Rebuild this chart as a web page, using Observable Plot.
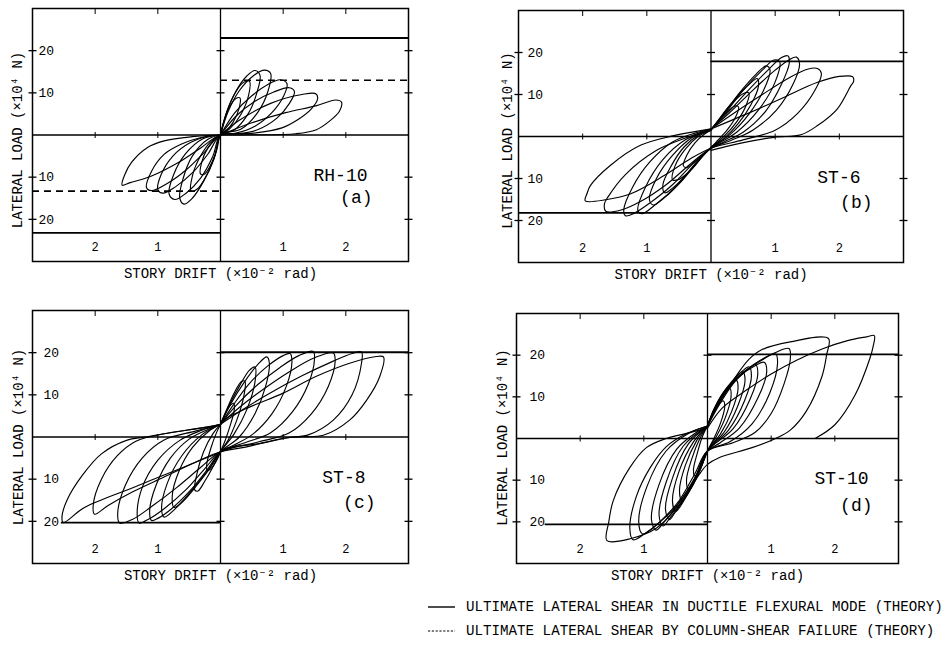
<!DOCTYPE html>
<html><head><meta charset="utf-8">
<script src="https://cdn.jsdelivr.net/npm/d3@7"></script>
<script src="https://cdn.jsdelivr.net/npm/@observablehq/plot@0.6"></script>
<style>
html,body{margin:0;padding:0;background:#fff;}
#root{position:relative;width:945px;height:648px;overflow:hidden;background:#fff;font-family:"Liberation Mono",monospace;}
.panel{position:absolute;}
#legend{position:absolute;left:425px;top:594px;}
</style></head><body><div id="root"></div>
<script>
// ---- tick values and labels ----
const xTicks = [-2, -1, 1, 2];
const yTicks = [-20, -10, 10, 20];
const xTitle = "STORY DRIFT (×10⁻² rad)";
const yTitle = "LATERAL LOAD (×10⁴ N)";
const specimenNames = ["RH-10", "ST-6", "ST-8", "ST-10"];
const panelTags = ["(a)", "(b)", "(c)", "(d)"];
const legendLabels = [
  "ULTIMATE LATERAL SHEAR IN DUCTILE FLEXURAL MODE (THEORY)",
  "ULTIMATE LATERAL SHEAR BY COLUMN-SHEAR FAILURE (THEORY)"
];

// ---- theory lines: [x1, x2, y] ----
const solidRH10 = [[0, 3, 23], [-3, 0, -23.2]];
const dashedRH10 = [[0, 3, 13], [-3, 0, -13.3]];
const solidST6 = [[0, 3, 17.9], [-3, 0, -18.2]];
const solidST8 = [[0, 3, 20.1], [-2.54, 0, -20.3]];
const solidST10 = [[0, 3, 20.2], [-2.55, 0, -20.6]];

// ---- hysteresis loops (drift ×10^-2 rad, load ×10^4 N), one list per cycle ----
const loopsRH10 = [
  [[0,0],[0.06,3.5],[0.15,6.8],[0.25,8.7],[0.31,8.8],[0.3,6.5],[0.2,3],[0.08,0.8],[0,0],[-0.06,-3.5],[-0.16,-7.2],[-0.26,-9.3],[-0.32,-9.2],[-0.3,-6.5],[-0.2,-3],[-0.08,-0.8],[0,0]],
  [[0,0],[0.08,4.5],[0.2,9],[0.35,12.3],[0.46,12.8],[0.45,9.5],[0.33,5],[0.15,1.5],[0,0],[-0.08,-4.5],[-0.22,-9.5],[-0.37,-12.8],[-0.47,-13.3],[-0.45,-9.8],[-0.32,-5],[-0.15,-1.5],[0,0]],
  [[0,0],[0.1,5.5],[0.25,10.5],[0.42,14],[0.55,15.3],[0.63,14.2],[0.58,10],[0.44,5],[0.22,1.2],[0,0],[-0.1,-5.5],[-0.27,-11],[-0.45,-15],[-0.58,-16.4],[-0.65,-15],[-0.6,-10.5],[-0.45,-5],[-0.2,-1],[0,0]],
  [[0,0],[0.12,5.5],[0.3,10.5],[0.52,14],[0.7,15.4],[0.8,14.6],[0.76,10.5],[0.6,5.5],[0.33,1.4],[0,0],[-0.12,-5],[-0.32,-10.3],[-0.55,-13.8],[-0.73,-15.3],[-0.82,-14],[-0.75,-9.5],[-0.56,-4.5],[-0.28,-0.9],[0,0]],
  [[0,0],[0.23,5.3],[0.5,9.3],[0.77,12.1],[0.95,13.1],[1.06,12.2],[1.01,9.3],[0.82,5.3],[0.55,2.1],[0.23,0.4],[0,0],[-0.2,-4.5],[-0.45,-9],[-0.72,-12.3],[-0.92,-13.8],[-1.0,-13],[-0.95,-9.5],[-0.76,-5],[-0.48,-1.8],[-0.2,-0.3],[0,0]],
  [[0,0],[0.25,4.5],[0.55,8],[0.85,10.2],[1.1,11.2],[1.18,10.3],[1.1,7.5],[0.9,4],[0.6,1.3],[0.3,0.3],[0,0],[-0.25,-4],[-0.55,-8.3],[-0.85,-11.5],[-1.1,-13.2],[-1.18,-12.5],[-1.1,-8.6],[-0.9,-4.6],[-0.63,-2.2],[-0.31,-0.6],[0,0]],
  [[0,0],[0.3,3.5],[0.8,7.5],[1.3,9.6],[1.52,9.8],[1.55,8.6],[1.45,6.2],[1.25,3.8],[0.98,1.7],[0.5,0.4],[0,0],[-0.31,-3],[-0.68,-6.6],[-1.11,-9.8],[-1.44,-11.3],[-1.57,-11.9],[-1.53,-9.5],[-1.42,-6.5],[-1.17,-3],[-0.9,-1.4],[-0.45,-0.4],[0,0]],
  [[0,0],[0.5,2.9],[1.04,5.3],[1.52,6.9],[1.84,8.3],[1.93,7.8],[1.9,5.7],[1.74,3.3],[1.52,1.2],[1.2,0.3],[0.5,0.05],[0,0]]
];
const loopsST6 = [
  [[0,1.5],[0.1,3.5],[0.25,5.8],[0.38,7.3],[0.43,7],[0.38,4.5],[0.25,1.5],[0.1,-1],[0,-2.6],[-0.1,-4],[-0.25,-6],[-0.38,-7.4],[-0.43,-7],[-0.38,-4.5],[-0.25,-1.5],[-0.1,0.6],[0,1.5]],
  [[0,1.5],[0.12,4],[0.3,7.5],[0.5,10.2],[0.59,10.4],[0.55,7.5],[0.4,3.5],[0.2,0],[0,-2.6],[-0.12,-4.5],[-0.3,-7.8],[-0.5,-10.2],[-0.6,-10.3],[-0.56,-7],[-0.4,-3],[-0.2,0],[0,1.5]],
  [[0,1.5],[0.15,4.5],[0.38,9],[0.6,12.5],[0.72,13.8],[0.74,12],[0.62,7.5],[0.42,3],[0.2,-0.5],[0,-2.7],[-0.15,-5],[-0.38,-9],[-0.6,-12.3],[-0.72,-13.4],[-0.75,-11.5],[-0.62,-7],[-0.42,-2.5],[-0.2,0.3],[0,1.6]],
  [[0,1.6],[0.18,5],[0.45,10.5],[0.7,14.8],[0.86,16.8],[0.92,15.8],[0.82,11],[0.6,5.5],[0.3,0.5],[0,-2.7],[-0.18,-5.5],[-0.45,-10.5],[-0.72,-14.5],[-0.9,-16.3],[-0.96,-15],[-0.85,-10],[-0.6,-4.5],[-0.3,-0.3],[0,1.7]],
  [[0,1.7],[0.22,5.5],[0.5,11],[0.8,15.8],[0.98,18.2],[1.07,17.8],[1.0,13],[0.75,6.5],[0.4,1],[0,-2.8],[-0.22,-6],[-0.52,-11.5],[-0.85,-16],[-1.08,-18.4],[-1.14,-17.5],[-1.02,-12],[-0.75,-5.5],[-0.4,-0.8],[0,1.7]],
  [[0,1.7],[0.25,5.5],[0.58,11],[0.9,16],[1.1,18.8],[1.2,19.2],[1.22,17.5],[1.1,12.5],[0.85,6],[0.5,1],[0.2,-1.3],[0,-2.8],[-0.25,-6],[-0.6,-11.5],[-0.95,-15.8],[-1.2,-18.3],[-1.33,-18.9],[-1.36,-17.5],[-1.22,-12],[-0.95,-6],[-0.6,-1.3],[-0.25,0.8],[0,1.8]],
  [[0,1.8],[0.28,5.5],[0.65,11],[1.0,15.8],[1.22,18.3],[1.33,18.9],[1.38,17.2],[1.28,12.5],[1.02,6.3],[0.65,1.5],[0.3,-1],[0,-2.8],[-0.28,-6],[-0.7,-11.5],[-1.1,-15.5],[-1.4,-17.5],[-1.64,-17.8],[-1.66,-16],[-1.61,-14.5],[-1.33,-9],[-0.86,-3.4],[-0.44,-0.6],[0,1.8]],
  [[0,1.8],[0.35,5.5],[0.8,10],[1.2,13.8],[1.5,16],[1.66,16.2],[1.72,15],[1.62,11],[1.35,5.5],[1.0,1.5],[0.5,-0.8],[0,-2.8],[-0.32,-5.3],[-0.73,-9.3],[-1.26,-13.7],[-1.62,-15],[-1.96,-15.3],[-1.93,-13.5],[-1.88,-11.7],[-1.57,-6.9],[-1.1,-2.1],[-0.58,0.2],[0,1.8]],
  [[0,1.8],[0.62,5.8],[1.09,9],[1.66,12.9],[2.0,14.3],[2.21,14.2],[2.22,13],[2.18,12.1],[1.97,6.6],[1.66,2.6],[1.4,0.4],[0.98,-0.2],[0.31,-2.1],[0,-3.3]]
];
const loopsST8 = [
  [[0,3],[0.06,5],[0.14,7.2],[0.21,8],[0.22,6.5],[0.15,2.5],[0.07,-1],[0,-3.5],[-0.06,-5.5],[-0.14,-7.3],[-0.21,-8],[-0.22,-6.5],[-0.15,-2.5],[-0.07,0.8],[0,3]],
  [[0,3],[0.1,6.5],[0.22,10.5],[0.34,13.2],[0.39,13.2],[0.37,9.5],[0.26,4],[0.12,-0.8],[0,-3.5],[-0.1,-6.5],[-0.24,-10.2],[-0.36,-12.8],[-0.41,-12.6],[-0.38,-9],[-0.27,-3.5],[-0.12,0.8],[0,3]],
  [[0,3],[0.12,7],[0.3,12],[0.46,15.8],[0.55,16.6],[0.55,13],[0.42,6.5],[0.22,0.8],[0,-3.5],[-0.15,-7],[-0.38,-11.5],[-0.6,-15.3],[-0.74,-16.7],[-0.77,-14],[-0.66,-8],[-0.45,-2.5],[-0.2,1.2],[0,3]],
  [[0,3],[0.15,7.5],[0.38,13],[0.6,17.3],[0.74,19],[0.78,17.5],[0.72,12],[0.55,5.5],[0.3,0],[0,-3.5],[-0.18,-7.5],[-0.45,-12.5],[-0.72,-17],[-0.9,-19],[-0.94,-17],[-0.85,-11],[-0.62,-4.5],[-0.3,0.5],[0,3]],
  [[0,3],[0.2,7.5],[0.45,12.5],[0.75,16.8],[1.0,19.3],[1.11,19.8],[1.14,18],[1.05,12],[0.82,5.5],[0.5,0.5],[0.2,-2],[0,-3.5],[-0.2,-7.5],[-0.47,-12.5],[-0.78,-17],[-1.0,-19.3],[-1.1,-19.8],[-1.13,-17.5],[-1.03,-11.5],[-0.8,-5],[-0.5,-0.5],[-0.2,1.8],[0,3]],
  [[0,3],[0.25,7.5],[0.6,12.5],[0.95,16.5],[1.25,19.3],[1.48,20.3],[1.5,18.5],[1.4,12.5],[1.15,6],[0.8,1],[0.4,-1.3],[0,-3.5],[-0.25,-7.5],[-0.55,-12.5],[-0.9,-17],[-1.15,-19.5],[-1.3,-20.4],[-1.33,-18],[-1.25,-12],[-1.0,-5.5],[-0.65,-0.8],[-0.3,1.6],[0,3]],
  [[0,3],[0.3,7],[0.7,11.5],[1.1,15.5],[1.5,18.8],[1.8,19.9],[1.83,18],[1.72,12],[1.45,5.5],[1.1,1],[0.6,-1.2],[0,-3.5],[-0.3,-7],[-0.7,-12],[-1.1,-16.5],[-1.4,-19.5],[-1.61,-20.4],[-1.64,-18],[-1.52,-11.5],[-1.25,-5],[-0.9,-0.7],[-0.4,1.4],[0,3]],
  [[0,3],[0.3,6],[0.8,10.5],[1.3,14.5],[1.8,18],[2.1,19.8],[2.25,20.2],[2.25,17.5],[2.1,10],[1.8,4],[1.4,0.5],[1.0,-0.3],[0.4,-2.4],[0,-3.5],[-0.4,-6],[-0.9,-9.5],[-1.4,-13],[-1.8,-16.3],[-2.01,-18.3],[-2.03,-16],[-1.9,-10],[-1.65,-4.5],[-1.35,-1],[-0.85,0.9],[-0.32,2.1],[0,3]],
  [[0,3],[0.05,4],[0.48,7.2],[1.0,10.4],[1.53,14.4],[2.06,17.5],[2.49,19.1],[2.6,19],[2.54,14.3],[2.33,8.7],[2.06,4],[1.64,0.4],[1.16,0],[0.6,-1.6],[0.21,-2.4],[0,-3.6],[-0.58,-7.1],[-1.38,-11.9],[-2.17,-16.7],[-2.51,-20.3],[-2.53,-19],[-2.45,-15],[-2.2,-9],[-1.9,-4],[-1.5,-0.8],[-1.2,0],[-0.85,0.9],[-0.32,2.1],[0,2.9]]
];
const loopsST10 = [
  [[0,3],[0.07,5.5],[0.16,8],[0.25,9],[0.27,7.5],[0.2,3.5],[0.1,0],[0,-3],[-0.05,-5],[-0.13,-7.8],[-0.2,-9],[-0.22,-7.5],[-0.16,-3.5],[-0.08,0.5],[0,3]],
  [[0,3],[0.09,6.5],[0.22,10.2],[0.35,12],[0.37,10],[0.28,5],[0.14,0.5],[0,-3],[-0.08,-6],[-0.19,-9.8],[-0.3,-12],[-0.33,-10],[-0.25,-5],[-0.12,0],[0,3]],
  [[0,3],[0.1,7],[0.27,11.5],[0.45,14],[0.48,12],[0.38,6.5],[0.2,1],[0,-3],[-0.1,-7],[-0.25,-11.8],[-0.4,-15],[-0.44,-12.5],[-0.35,-6.5],[-0.17,-0.5],[0,3]],
  [[0,3],[0.12,7.5],[0.32,12.5],[0.55,16],[0.59,14],[0.48,8],[0.26,1.5],[0,-3],[-0.12,-7.5],[-0.3,-13],[-0.5,-17.5],[-0.55,-15],[-0.45,-8],[-0.22,-0.8],[0,3]],
  [[0,3],[0.14,8],[0.38,13.5],[0.58,16.6],[0.65,17.2],[0.69,15],[0.58,9],[0.33,2],[0,-3],[-0.14,-8],[-0.35,-14],[-0.52,-18],[-0.6,-19.5],[-0.66,-17],[-0.55,-9.5],[-0.3,-1.3],[0,3]],
  [[0,3],[0.16,8.5],[0.42,14],[0.66,17],[0.75,17.8],[0.79,15.5],[0.67,9.5],[0.4,2.3],[0,-3],[-0.16,-8.5],[-0.4,-15],[-0.6,-19.3],[-0.7,-21],[-0.76,-18.5],[-0.65,-10.5],[-0.38,-1.8],[0,3]],
  [[0,3],[0.18,9],[0.47,14.5],[0.76,17.6],[0.89,18.3],[0.93,16],[0.8,10],[0.5,2.5],[0.2,-1],[0,-3],[-0.18,-9],[-0.45,-15.5],[-0.68,-20],[-0.81,-22],[-0.88,-19.5],[-0.76,-11],[-0.48,-2.5],[-0.2,1.2],[0,3]],
  [[0,3],[0.2,9],[0.5,15],[0.85,18.8],[1.07,20.3],[1.1,18],[0.98,11],[0.7,3.5],[0.35,-0.8],[0,-3],[-0.2,-9.5],[-0.48,-16],[-0.78,-20.5],[-1.02,-22.9],[-1.08,-20],[-0.95,-11.5],[-0.65,-3],[-0.3,1.2],[0,3]],
  [[0,3],[0.2,8.5],[0.45,14],[0.75,18],[1.05,20.5],[1.28,21.6],[1.3,19],[1.2,13],[1.0,6],[0.75,1.5],[0.4,-1],[0,-3],[-0.2,-8.5],[-0.45,-15],[-0.75,-20],[-1.0,-23],[-1.17,-24.3],[-1.22,-21.5],[-1.12,-14],[-0.9,-7],[-0.65,-2],[-0.35,1],[0,3]],
  [[0,3],[0.2,9],[0.45,15],[0.65,19],[0.85,21.3],[1.3,23.2],[1.9,24],[1.87,20],[1.8,15],[1.55,6.5],[1.3,2],[1.07,0],[0.7,-2.2],[0.18,-4.6],[0,-6.2],[-0.13,-8.6],[-0.4,-15],[-0.8,-21.5],[-1.2,-24],[-1.58,-24.5],[-1.55,-20],[-1.48,-14.9],[-1.22,-7],[-0.96,-2.2],[-0.65,0],[-0.39,1],[0,2.5]],
  [[0,2.5],[0.23,7.3],[0.6,11.5],[1.0,15.5],[1.4,18.8],[1.8,21.5],[2.2,23.5],[2.5,24.4],[2.62,24.7],[2.6,22],[2.55,19.2],[2.32,10.5],[2.0,3.3],[1.69,0]]
];

// ---- layout (positions/styles only) ----
const layouts = [
  {left:0, top:0, width:470, height:300, m:[8,62,39,32], ylDx:6, yTdx:-15, yTdy:5, nDx:-41, nDy:-81, tDx:-36, tDy:-59},
  {left:470, top:0, width:475, height:300, m:[10,42,38,48], ylDx:9, yTdx:-11, yTdy:4, nDx:-43, nDy:-80, tDx:-31, tDy:-55},
  {left:0, top:300, width:470, height:300, m:[10,62,37,32], ylDx:11, yTdx:-14, yTdy:0, nDx:-43, nDy:-81, tDx:-33, tDy:-56},
  {left:470, top:300, width:475, height:300, m:[13,47,37,46], ylDx:13, yTdx:-14, yTdy:-1, nDx:-30, nDy:-80, tDx:-26, tDy:-53}
];
const loopSets = [loopsRH10, loopsST6, loopsST8, loopsST10];
const solidSets = [solidRH10, solidST6, solidST8, solidST10];
const dashedSets = [dashedRH10, [], [], []];

const hTick = {draw(ctx, size){ const r = Math.sqrt(size/Math.PI); ctx.moveTo(-r,0); ctx.lineTo(r,0); }};
const vTick = {draw(ctx, size){ const r = Math.sqrt(size/Math.PI); ctx.moveTo(0,-r); ctx.lineTo(0,r); }};
const FONT = "'Liberation Mono', 'DejaVu Sans Mono', monospace";

const root = document.getElementById("root");
layouts.forEach((L, i) => {
  const rows = loopSets[i].flatMap((c, k) => c.map(([x, y]) => ({x, y, cycle: k})));
  const toRule = a => a.map(([x1, x2, y]) => ({x1, x2, y}));
  const chart = Plot.plot({
    width: L.width, height: L.height,
    marginTop: L.m[0], marginRight: L.m[1], marginBottom: L.m[2], marginLeft: L.m[3],
    x: {domain: [-3, 3], axis: null},
    y: {domain: [-30, 30], axis: null},
    style: {fontFamily: FONT, background: "white", color: "black", overflow: "visible"},
    marks: [
      Plot.ruleY([0], {stroke: "black", strokeWidth: 1.6}),
      Plot.ruleX([0], {stroke: "black", strokeWidth: 1.3}),
      Plot.ruleY(toRule(solidSets[i]), {x1: "x1", x2: "x2", y: "y", stroke: "black", strokeWidth: 1.8}),
      Plot.ruleY(toRule(dashedSets[i]), {x1: "x1", x2: "x2", y: "y", stroke: "black", strokeWidth: 1.6, strokeDasharray: "7,5"}),
      Plot.line(rows, {x: "x", y: "y", z: "cycle", curve: "catmull-rom", stroke: "black", strokeWidth: 1.15}),
      Plot.frame({stroke: "black", strokeWidth: 1.5}),
      Plot.dot(yTicks, {y: d => d, frameAnchor: "left", symbol: hTick, r: 4, stroke: "black", fill: "none", strokeWidth: 1.3}),
      Plot.dot(yTicks, {y: d => d, frameAnchor: "right", symbol: hTick, r: 4, stroke: "black", fill: "none", strokeWidth: 1.3}),
      Plot.dot(yTicks, {x: () => 0, y: d => d, symbol: hTick, r: 4, stroke: "black", fill: "none", strokeWidth: 1.3}),
      Plot.dot(xTicks, {x: d => d, y: () => 0, symbol: vTick, r: 3, stroke: "black", fill: "none", strokeWidth: 1}),
      Plot.dot(xTicks, {x: d => d, frameAnchor: "top", dy: 3, symbol: vTick, r: 2.5, stroke: "black", fill: "none", strokeWidth: 1}),
      Plot.text(yTicks, {y: d => d, text: d => String(Math.abs(d)), frameAnchor: "left", textAnchor: "start", dx: L.ylDx, fontSize: 13, fill: "black"}),
      Plot.text(xTicks, {x: d => d, text: d => String(Math.abs(d)), frameAnchor: "bottom", dy: -11, fontSize: 12, fill: "black"}),
      Plot.text([xTitle], {frameAnchor: "bottom", textAnchor: "middle", dy: 16, fontSize: 14, fill: "black"}),
      Plot.text([yTitle], {frameAnchor: "left", textAnchor: "middle", rotate: -90, dx: L.yTdx, dy: L.yTdy, fontSize: 14, fill: "black"}),
      Plot.text([specimenNames[i]], {frameAnchor: "bottom-right", textAnchor: "end", dx: L.nDx, dy: L.nDy, fontSize: 18, fill: "black"}),
      Plot.text([panelTags[i]], {frameAnchor: "bottom-right", textAnchor: "end", dx: L.tDx, dy: L.tDy, fontSize: 18, fill: "black"})
    ]
  });
  const wrap = document.createElement("div");
  wrap.className = "panel";
  wrap.style.left = L.left + "px";
  wrap.style.top = L.top + "px";
  wrap.appendChild(chart);
  root.appendChild(wrap);
});

// ---- legend ----
const NS = "http://www.w3.org/2000/svg";
const leg = document.createElementNS(NS, "svg");
leg.setAttribute("id", "legend");
leg.setAttribute("width", 520);
leg.setAttribute("height", 50);
legendLabels.forEach((lab, k) => {
  const yy = 13 + k * 24;
  const ln = document.createElementNS(NS, "line");
  ln.setAttribute("x1", 3); ln.setAttribute("x2", 30);
  ln.setAttribute("y1", yy); ln.setAttribute("y2", yy);
  ln.setAttribute("stroke", "black");
  ln.setAttribute("stroke-width", k === 0 ? 1.4 : 1.2);
  if (k === 1) ln.setAttribute("stroke-dasharray", "2.2,1.6");
  leg.appendChild(ln);
  const t = document.createElementNS(NS, "text");
  t.setAttribute("x", 41); t.setAttribute("y", yy);
  t.setAttribute("dominant-baseline", "central");
  t.setAttribute("font-family", FONT);
  t.setAttribute("font-size", "14.2px");
  t.setAttribute("fill", "black");
  t.textContent = lab;
  leg.appendChild(t);
});
root.appendChild(leg);
</script></body></html>
